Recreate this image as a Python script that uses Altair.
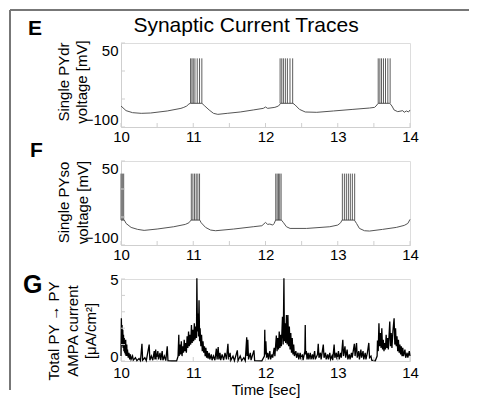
import altair as alt
import pandas as pd

FONT = "Liberation Sans"
W = 289
H = 84
HG = 82
AXIS_GRAY = "#cfcfcf"
BORDER = "#777777"

# ---------------- data ----------------
x_ticks = [10, 10.5, 11, 11.5, 12, 12.5, 13, 13.5, 14]
v_ticks = [-100, -50, 0, 50]
g_ticks = [0, 1, 2, 3, 4, 5]
g_labels = [0, 5]

# Panel E: single PYdr voltage (mV)
e_time = [10.0, 10.07, 10.16, 10.28, 10.41, 10.64, 10.83, 10.87, 10.91, 10.94, 10.96,
          11.12, 11.16, 11.22, 11.28, 11.34, 11.47, 11.65, 11.83, 11.97, 12.0, 12.03,
          12.13, 12.18, 12.21, 12.38, 12.41, 12.47, 12.55, 12.71, 12.94, 13.21, 13.44,
          13.51, 13.53, 13.56, 13.72, 13.75, 13.78, 13.83, 13.9, 13.92, 13.95, 13.98, 14.0]
e_volt = [-62.5, -70.8, -74.4, -75.6, -75.0, -71.4, -66.7, -64.9, -62.5, -58.9, -57.7,
          -57.7, -62.5, -69.6, -75.6, -77.4, -75.6, -73.2, -69.6, -66.7, -64.3, -66.7,
          -64.9, -62.5, -57.7, -57.7, -60.7, -68.5, -73.2, -73.8, -71.4, -68.5, -66.1,
          -64.9, -62.5, -57.7, -57.7, -62.5, -69.6, -72.6, -70.8, -73.8, -71.4, -73.2, -69.6]
e_spike_times = [10.963, 10.982, 11.0, 11.023, 11.055, 11.087, 11.119,
                 12.202, 12.225, 12.248, 12.275, 12.303, 12.339, 12.376,
                 13.56, 13.583, 13.606, 13.633, 13.661, 13.693, 13.725]
e_spike_base = -57.7
e_spike_peak = 22.6

# Panel F: single PYso voltage (mV)
f_time = [10.0, 10.046, 10.07, 10.14, 10.23, 10.32, 10.5, 10.73, 10.89, 10.94, 10.97,
          11.09, 11.11, 11.17, 11.24, 11.31, 11.56, 11.83, 11.95, 12.0, 12.03, 12.06,
          12.1, 12.12, 12.14, 12.22, 12.25, 12.29, 12.34, 12.57, 12.89, 13.0, 13.04,
          13.06, 13.23, 13.26, 13.3, 13.37, 13.44, 13.62, 13.81, 13.92, 13.97, 14.0]
f_volt = [-55.5, -55.5, -61.5, -68.6, -72.1, -73.9, -71.5, -67.4, -63.2, -60.3, -55.5,
          -55.5, -60.3, -68.6, -73.3, -74.5, -71.5, -67.4, -65.6, -59.7, -63.2, -62.6,
          -64.4, -61.5, -55.5, -55.5, -60.3, -67.4, -70.4, -70.4, -67.4, -64.4, -60.3,
          -55.5, -55.5, -61.5, -70.4, -74.5, -75.1, -72.1, -68.6, -65.0, -61.5, -54.3]
f_spike_times = [10.0, 10.018, 10.037,
                 10.973, 10.995, 11.018, 11.041, 11.064, 11.087,
                 12.142, 12.161, 12.179, 12.197, 12.216,
                 13.064, 13.092, 13.119, 13.147, 13.174, 13.202, 13.234]
f_spike_base = -55.5
f_spike_peak = 27.5

# Panel G: total PY -> PY AMPA current (uA/cm^2)
g_time = [10.000, 10.005, 10.010, 10.015, 10.020, 10.025, 10.030, 10.035, 10.040, 10.045,
          10.050, 10.055, 10.060, 10.065, 10.070, 10.080, 10.085, 10.090, 10.100, 10.110,
          10.120, 10.130, 10.140, 10.160, 10.170, 10.200, 10.220, 10.250, 10.270, 10.290,
          10.300, 10.330, 10.350, 10.390, 10.400, 10.420, 10.440, 10.460, 10.470, 10.480,
          10.490, 10.510, 10.520, 10.540, 10.550, 10.570, 10.580, 10.600, 10.620, 10.640,
          10.650, 10.700, 10.770, 10.790, 10.800, 10.805, 10.815, 10.825, 10.835, 10.845,
          10.855, 10.865, 10.875, 10.885, 10.895, 10.905, 10.915, 10.925, 10.935, 10.945,
          10.955, 10.965, 10.975, 10.985, 10.995, 11.005, 11.015, 11.025, 11.035, 11.045,
          11.050, 11.058, 11.065, 11.072, 11.080, 11.088, 11.095, 11.105, 11.115, 11.125,
          11.135, 11.145, 11.155, 11.165, 11.175, 11.185, 11.195, 11.205, 11.220, 11.230,
          11.250, 11.260, 11.280, 11.300, 11.320, 11.330, 11.345, 11.355, 11.370, 11.380,
          11.400, 11.420, 11.440, 11.460, 11.480, 11.490, 11.510, 11.520, 11.550, 11.570,
          11.610, 11.620, 11.650, 11.670, 11.700, 11.720, 11.740, 11.745, 11.755, 11.765,
          11.790, 11.800, 11.840, 11.850, 11.950, 11.985, 11.990, 11.995, 12.005, 12.015,
          12.030, 12.040, 12.060, 12.070, 12.090, 12.100, 12.120, 12.130, 12.150, 12.160,
          12.170, 12.180, 12.190, 12.200, 12.210, 12.220, 12.235, 12.245, 12.255, 12.262,
          12.270, 12.280, 12.290, 12.300, 12.310, 12.320, 12.330, 12.340, 12.350, 12.360,
          12.370, 12.380, 12.390, 12.400, 12.420, 12.430, 12.450, 12.460, 12.480, 12.490,
          12.510, 12.520, 12.545, 12.550, 12.555, 12.565, 12.575, 12.590, 12.600, 12.620,
          12.630, 12.650, 12.660, 12.680, 12.690, 12.720, 12.730, 12.740, 12.760, 12.770,
          12.800, 12.810, 12.830, 12.840, 12.860, 12.870, 12.890, 12.900, 12.920, 12.930,
          12.950, 12.960, 12.980, 12.990, 13.010, 13.020, 13.040, 13.050, 13.070, 13.080,
          13.100, 13.110, 13.130, 13.140, 13.160, 13.170, 13.190, 13.200, 13.230, 13.240,
          13.260, 13.270, 13.290, 13.300, 13.320, 13.330, 13.350, 13.360, 13.380, 13.390,
          13.410, 13.430, 13.440, 13.460, 13.470, 13.520, 13.545, 13.550, 13.560, 13.570,
          13.580, 13.590, 13.600, 13.610, 13.620, 13.630, 13.640, 13.650, 13.660, 13.670,
          13.680, 13.690, 13.700, 13.720, 13.730, 13.740, 13.750, 13.765, 13.780, 13.790,
          13.800, 13.810, 13.820, 13.830, 13.840, 13.850, 13.860, 13.870, 13.880, 13.890,
          13.900, 13.910, 13.930, 13.940, 13.960, 13.970, 13.990, 14.000]
g_current = [0.3, 2.6, 1.4, 2.2, 0.9, 1.9, 0.8, 1.6, 0.6, 1.4,
             0.5, 1.2, 0.4, 1.3, 0.3, 1.0, 0.3, 0.7, 0.2, 0.5,
             0.1, 0.4, 0.1, 0.3, 0.05, 0.2, 0.02, 0.15, 0.02, 1.05,
             0.05, 0.2, 0.02, 1.0, 0.05, 0.3, 0.05, 0.6, 0.1, 0.7,
             0.1, 0.6, 0.1, 0.5, 0.05, 0.6, 0.05, 0.3, 0.02, 0.9,
             0.02, 0.01, 0.01, 0.3, 1.6, 0.3, 1.0, 0.4, 1.2, 0.3,
             0.9, 0.5, 1.3, 0.6, 1.1, 0.5, 1.5, 0.8, 1.8, 0.9,
             1.6, 1.0, 2.2, 1.1, 1.9, 1.2, 2.3, 1.3, 2.1, 1.4,
             5.05, 1.8, 2.9, 1.5, 3.7, 1.2, 2.0, 0.9, 1.6, 0.6,
             1.2, 0.5, 0.9, 0.3, 0.8, 0.2, 0.6, 0.15, 0.5, 0.1,
             0.4, 0.05, 0.3, 0.05, 0.75, 0.1, 0.85, 0.1, 0.5, 0.05,
             0.4, 0.05, 0.5, 0.1, 1.05, 0.1, 0.5, 0.05, 0.3, 0.02,
             0.65, 0.02, 0.3, 0.02, 0.2, 0.02, 1.45, 0.3, 1.3, 0.1,
             0.5, 0.05, 0.65, 0.02, 0.01, 0.3, 1.9, 0.4, 1.2, 0.2,
             0.5, 0.1, 0.6, 0.1, 0.4, 0.2, 0.8, 0.3, 1.55, 0.6,
             1.4, 0.7, 1.8, 0.8, 1.6, 0.9, 2.7, 1.0, 5.05, 1.2,
             2.3, 1.1, 2.8, 1.0, 2.8, 0.9, 2.1, 0.7, 1.7, 0.5,
             1.4, 0.4, 1.0, 0.3, 0.6, 0.2, 0.5, 0.1, 0.5, 0.1,
             0.4, 0.05, 0.6, 2.2, 0.4, 0.6, 0.1, 0.5, 0.1, 0.5,
             0.1, 0.4, 0.1, 0.6, 0.1, 0.4, 1.05, 0.2, 0.5, 0.1,
             1.0, 0.2, 0.5, 0.1, 0.4, 0.1, 0.5, 0.1, 0.3, 0.05,
             1.0, 0.2, 0.5, 0.1, 0.6, 0.1, 0.5, 0.2, 1.3, 0.3,
             0.9, 0.2, 0.7, 0.1, 0.4, 0.1, 0.5, 0.2, 1.05, 0.3,
             1.1, 0.2, 0.6, 0.1, 0.7, 0.2, 0.6, 0.1, 0.5, 0.1,
             0.5, 1.1, 0.2, 0.3, 0.05, 0.02, 0.3, 1.25, 0.6, 2.3,
             0.9, 1.7, 0.8, 2.0, 0.7, 1.3, 0.6, 1.1, 0.7, 1.6,
             0.8, 1.4, 0.7, 2.4, 0.9, 1.7, 0.8, 1.9, 2.6, 1.0,
             2.0, 0.9, 1.5, 0.6, 1.3, 0.5, 1.0, 0.4, 0.9, 0.3,
             0.8, 0.3, 0.7, 0.2, 0.5, 0.2, 0.6, 0.3]

panel_letters = ["E", "F", "G"]
main_title = "Synaptic Current Traces"
e_ytitle = ["Single PYdr", "voltage [mV]"]
f_ytitle = ["Single PYso", "voltage [mV]"]
g_ytitle = ["Total PY \u2192 PY", "AMPA current", "[\u03bcA/cm\u00b2]"]
x_title = "Time [sec]"

# ---------------- helpers ----------------
one = pd.DataFrame({"k": [0]})
xt_df = pd.DataFrame({"t": x_ticks})
BX = -111  # left frame line (plot-relative px)


def x_enc(title=None, pad=2):
    return alt.X("t:Q", scale=alt.Scale(domain=[10, 14], nice=False, zero=False),
                 axis=alt.Axis(values=x_ticks, format="d",
                               labelExpr="datum.value % 1 == 0 ? datum.label : ''",
                               ticks=False, tickSize=0, grid=False, domainColor=AXIS_GRAY,
                               labelFontSize=15, labelFont=FONT, labelColor="black",
                               labelPadding=pad, labelFlush=False, labelOverlap=False,
                               title=title, titleFont=FONT, titleFontSize=15,
                               titleFontWeight="normal", titleColor="black", titlePadding=2))


def y_axis_volt():
    return alt.Axis(values=v_ticks,
                    labelExpr="(datum.value == 50 || datum.value == -100) ? datum.label : ''",
                    ticks=False, tickSize=0, grid=False, domainColor=AXIS_GRAY,
                    labelFontSize=15, labelFont=FONT, labelColor="black",
                    labelPadding=3, labelFlush=True, labelOverlap=False, title=None)


def y_axis_g():
    return alt.Axis(values=g_labels, format="d",
                    ticks=False, tickSize=0, grid=False, domainColor=AXIS_GRAY,
                    labelFontSize=15, labelFont=FONT, labelColor="black",
                    labelPadding=3, labelFlush=False, labelOverlap=False,
                    labelBaseline={"condition": {"test": "datum.value == 0",
                                                 "value": "alphabetic"},
                                   "value": "middle"},
                    title=None)


def inner_ticks(height, y_df):
    xt = alt.Chart(xt_df).mark_rule(color=AXIS_GRAY, strokeWidth=1).encode(
        x="t:Q", y=alt.value(height), y2=alt.value(height - 4))
    yt = alt.Chart(y_df).mark_rule(color=AXIS_GRAY, strokeWidth=1).encode(
        y="v:Q", x=alt.value(0), x2=alt.value(4))
    return [xt, yt]


def letter(text, x, y, size):
    return alt.Chart(one).mark_text(text=text, font=FONT, fontSize=size,
                                    fontWeight="bold", align="left",
                                    baseline="alphabetic", color="black").encode(
        x=alt.value(x), y=alt.value(y))


def ytitle_lines(lines, xs, yc):
    out = []
    for txt, x in zip(lines, xs):
        out.append(alt.Chart(one).mark_text(text=txt, font=FONT, fontSize=15, angle=270,
                                            align="center", baseline="middle",
                                            color="black").encode(
            x=alt.value(x), y=alt.value(yc)))
    return out


def border_v(y0, y1):
    return alt.Chart(one).mark_rule(color=BORDER, strokeWidth=2).encode(
        x=alt.value(BX), y=alt.value(y0), y2=alt.value(y1))


def voltage_panel(times, volts, spikes, base, peak, ytitle, yxs, yc, let, first):
    line_df = pd.DataFrame({"t": times, "v": volts})
    sp_df = pd.DataFrame({"t": spikes, "v": [base] * len(spikes), "v2": [peak] * len(spikes)})
    yt_df = pd.DataFrame({"v": v_ticks})
    line = alt.Chart(line_df).mark_line(color="#555555", strokeWidth=1).encode(
        x=x_enc(),
        y=alt.Y("v:Q", scale=alt.Scale(domain=[-100, 50], nice=False, zero=False),
                axis=y_axis_volt()),
        order="t:Q")
    sp = alt.Chart(sp_df).mark_rule(color="#333333", strokeWidth=0.8).encode(
        x="t:Q", y="v:Q", y2="v2:Q")
    layers = [line, sp] + inner_ticks(H, yt_df) + [let] + ytitle_lines(ytitle, yxs, yc)
    if first:
        layers.append(border_v(-33, H + 35))
        layers.append(alt.Chart(one).mark_rule(color=BORDER, strokeWidth=2).encode(
            x=alt.value(BX), x2=alt.value(348), y=alt.value(-33)))
        layers.append(alt.Chart(one).mark_text(text=main_title, font=FONT, fontSize=21,
                                               align="center", baseline="alphabetic",
                                               color="black").encode(
            x=alt.value(125), y=alt.value(-11)))
    else:
        layers.append(border_v(-1, H + 36))
    return alt.layer(*layers).properties(width=W, height=H)


panel_e = voltage_panel(e_time, e_volt, e_spike_times, e_spike_base, e_spike_peak,
                        e_ytitle, [-57, -39], 39,
                        letter(panel_letters[0], -93, -8, 21), True)
panel_f = voltage_panel(f_time, f_volt, f_spike_times, f_spike_base, f_spike_peak,
                        f_ytitle, [-57.5, -38.5], 41.5,
                        letter(panel_letters[1], -91, -4, 21), False)

g_df = pd.DataFrame({"t": g_time, "v": g_current})
gyt_df = pd.DataFrame({"v": g_ticks})
g_line = alt.Chart(g_df).mark_line(color="black", strokeWidth=1.3).encode(
    x=x_enc(x_title, 4),
    y=alt.Y("v:Q", scale=alt.Scale(domain=[0, 5], nice=False, zero=False), axis=y_axis_g()),
    order="t:Q")
panel_g = alt.layer(g_line, *inner_ticks(HG, gyt_df),
                    letter(panel_letters[2], -98, 14, 25),
                    *ytitle_lines(g_ytitle, [-67, -48.5, -30.3], 52),
                    border_v(-1, HG + 29)).properties(width=W, height=HG)

chart = alt.vconcat(panel_e, panel_f, panel_g, spacing=34, bounds="flush").properties(
    padding=0
).configure_view(stroke=None).configure(font=FONT)

chart.save("out.html", embed_options={"renderer": "svg", "actions": False})
